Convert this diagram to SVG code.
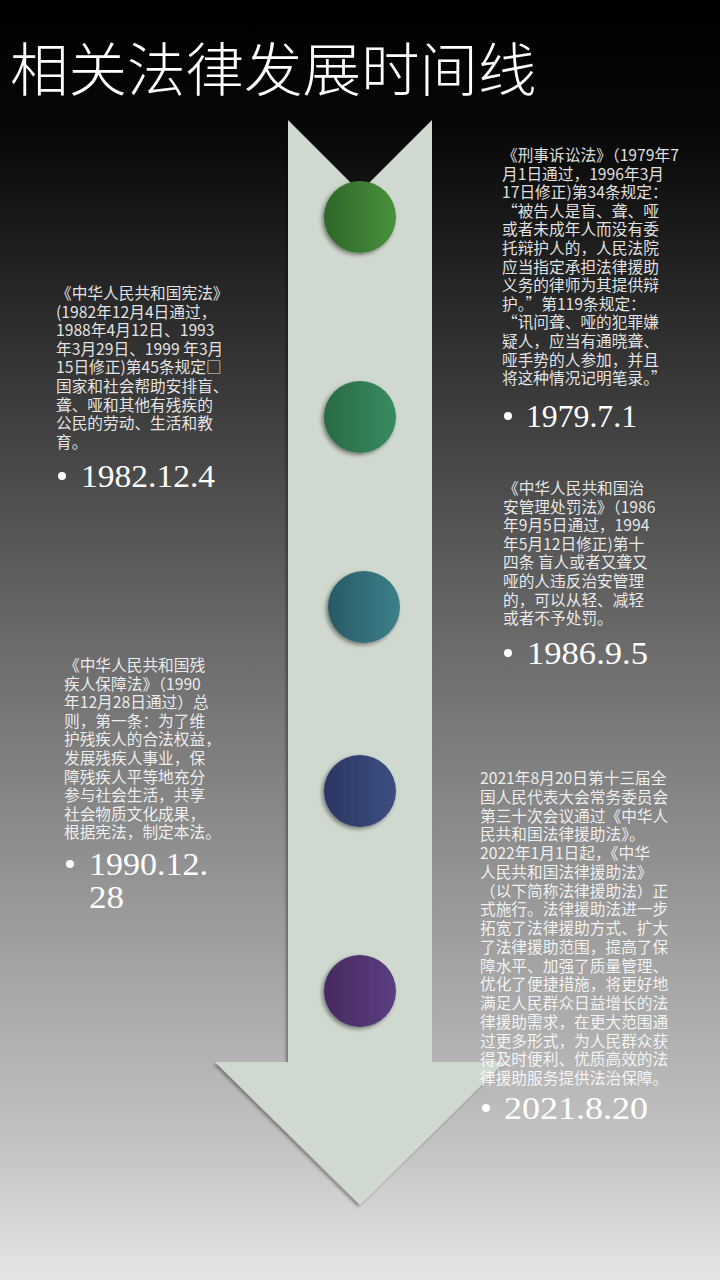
<svg xmlns="http://www.w3.org/2000/svg" width="720" height="1280" viewBox="0 0 720 1280">
<defs>
<linearGradient id="bg" x1="0" y1="0" x2="0" y2="1">
<stop offset="0" stop-color="#000000"/>
<stop offset="0.1" stop-color="#070707"/>
<stop offset="0.5" stop-color="#6a6a6a"/>
<stop offset="0.9" stop-color="#c4c4c4"/>
<stop offset="1" stop-color="#e6e6e6"/>
</linearGradient>
<linearGradient id="g1" x1="0" y1="0" x2="1" y2="0"><stop offset="0" stop-color="#2e6629"/><stop offset="1" stop-color="#48923c"/></linearGradient>
<linearGradient id="g2" x1="0" y1="0" x2="1" y2="0"><stop offset="0" stop-color="#296a44"/><stop offset="1" stop-color="#398c62"/></linearGradient>
<linearGradient id="g3" x1="0" y1="0" x2="1" y2="0"><stop offset="0" stop-color="#285a66"/><stop offset="1" stop-color="#3c8089"/></linearGradient>
<linearGradient id="g4" x1="0" y1="0" x2="1" y2="0"><stop offset="0" stop-color="#2b3662"/><stop offset="1" stop-color="#3c4e82"/></linearGradient>
<linearGradient id="g5" x1="0" y1="0" x2="1" y2="0"><stop offset="0" stop-color="#452a5e"/><stop offset="1" stop-color="#5c3e82"/></linearGradient>
<filter id="sh" x="-30%" y="-30%" width="160%" height="160%">
<feDropShadow dx="-2" dy="2" stdDeviation="2" flood-color="#000" flood-opacity="0.45"/>
</filter>
<filter id="ash" x="-10%" y="-10%" width="120%" height="120%">
<feDropShadow dx="-2" dy="2" stdDeviation="1.5" flood-color="#000" flood-opacity="0.35"/>
</filter>
</defs>
<style>
.body{font-family:"Noto Sans CJK SC","Noto Sans",sans-serif;font-size:15.7px;fill:#ffffff;fill-opacity:0.88}
.date{font-family:"Liberation Serif","DejaVu Serif",serif;font-size:32px;fill:#ffffff}
.bul{fill:#ffffff}
.title{font-family:"Noto Sans CJK SC",sans-serif;font-weight:300;font-size:58.5px;fill:#ffffff}
</style>
<rect x="0" y="0" width="720" height="1280" fill="url(#bg)"/>
<text class="title" x="10" y="91">相关法律发展时间线</text>
<g id="arrow">
<polygon points="288,120 360,192 432,120 432,1062 505,1062 360,1205 215,1062 288,1062" fill="#d0d9d0" filter="url(#ash)"/>
</g>
<g id="connectors"></g>
<g id="node1"><circle cx="360" cy="217" r="36" fill="url(#g1)" filter="url(#sh)"/></g>
<g id="node2"><circle cx="360" cy="417" r="36" fill="url(#g2)" filter="url(#sh)"/></g>
<g id="node3"><circle cx="364" cy="607" r="36" fill="url(#g3)" filter="url(#sh)"/></g>
<g id="node4"><circle cx="360" cy="791" r="36" fill="url(#g4)" filter="url(#sh)"/></g>
<g id="node5"><circle cx="360" cy="991" r="36" fill="url(#g5)" filter="url(#sh)"/></g>

<g id="text1979">
<text class="body" x="502" y="161">
<tspan x="502" y="161">《刑事诉讼法》（1979年7</tspan>
<tspan x="502" dy="18.6">月1日通过，1996年3月</tspan>
<tspan x="502" dy="18.6">17日修正)第34条规定：</tspan>
<tspan x="502" dy="18.6">“被告人是盲、聋、哑</tspan>
<tspan x="502" dy="18.6">或者未成年人而没有委</tspan>
<tspan x="502" dy="18.6">托辩护人的，人民法院</tspan>
<tspan x="502" dy="18.6">应当指定承担法律援助</tspan>
<tspan x="502" dy="18.6">义务的律师为其提供辩</tspan>
<tspan x="502" dy="18.6">护。”第119条规定：</tspan>
<tspan x="502" dy="18.6">“讯问聋、哑的犯罪嫌</tspan>
<tspan x="502" dy="18.6">疑人，应当有通晓聋、</tspan>
<tspan x="502" dy="18.6">哑手势的人参加，并且</tspan>
<tspan x="502" dy="18.6">将这种情况记明笔录。”</tspan>
</text>
<circle class="bul" cx="508" cy="416" r="4"/>
<text class="date" x="526" y="427" textLength="111" lengthAdjust="spacingAndGlyphs">1979.7.1</text>
</g>

<g id="text1982">
<text class="body" x="56" y="299">
<tspan x="56" y="299">《中华人民共和国宪法》</tspan>
<tspan x="56" dy="18.6">(1982年12月4日通过，</tspan>
<tspan x="56" dy="18.6">1988年4月12日、1993</tspan>
<tspan x="56" dy="18.6">年3月29日、1999 年3月</tspan>
<tspan x="56" dy="18.6">15日修正)第45条规定□</tspan>
<tspan x="56" dy="18.6">国家和社会帮助安排盲、</tspan>
<tspan x="56" dy="18.6">聋、哑和其他有残疾的</tspan>
<tspan x="56" dy="18.6">公民的劳动、生活和教</tspan>
<tspan x="56" dy="18.6">育。</tspan>
</text>
<circle class="bul" cx="62" cy="476" r="4"/>
<text class="date" x="81" y="487" textLength="134" lengthAdjust="spacingAndGlyphs">1982.12.4</text>
</g>

<g id="text1986">
<text class="body" x="503" y="494">
<tspan x="503" y="494">《中华人民共和国治</tspan>
<tspan x="503" dy="18.6">安管理处罚法》（1986</tspan>
<tspan x="503" dy="18.6">年9月5日通过，1994</tspan>
<tspan x="503" dy="18.6">年5月12日修正)第十</tspan>
<tspan x="503" dy="18.6">四条 盲人或者又聋又</tspan>
<tspan x="503" dy="18.6">哑的人违反治安管理</tspan>
<tspan x="503" dy="18.6">的，可以从轻、减轻</tspan>
<tspan x="503" dy="18.6">或者不予处罚。</tspan>
</text>
<circle class="bul" cx="508" cy="653" r="4"/>
<text class="date" x="527" y="664" textLength="121" lengthAdjust="spacingAndGlyphs">1986.9.5</text>
</g>

<g id="text1990">
<text class="body" x="64" y="671">
<tspan x="64" y="671">《中华人民共和国残</tspan>
<tspan x="64" dy="18.6">疾人保障法》（1990</tspan>
<tspan x="64" dy="18.6">年12月28日通过）总</tspan>
<tspan x="64" dy="18.6">则，第一条：为了维</tspan>
<tspan x="64" dy="18.6">护残疾人的合法权益，</tspan>
<tspan x="64" dy="18.6">发展残疾人事业，保</tspan>
<tspan x="64" dy="18.6">障残疾人平等地充分</tspan>
<tspan x="64" dy="18.6">参与社会生活，共享</tspan>
<tspan x="64" dy="18.6">社会物质文化成果，</tspan>
<tspan x="64" dy="18.6">根据宪法，制定本法。</tspan>
</text>
<circle class="bul" cx="70" cy="864" r="4"/>
<text class="date" x="89" y="875" textLength="119" lengthAdjust="spacingAndGlyphs">1990.12.</text>
<text class="date" x="89" y="908" textLength="35" lengthAdjust="spacingAndGlyphs">28</text>
</g>

<g id="text2021">
<text class="body" x="480" y="784">
<tspan x="480" y="784">2021年8月20日第十三届全</tspan>
<tspan x="480" dy="18.75">国人民代表大会常务委员会</tspan>
<tspan x="480" dy="18.75">第三十次会议通过《中华人</tspan>
<tspan x="480" dy="18.75">民共和国法律援助法》。</tspan>
<tspan x="480" dy="18.75">2022年1月1日起，《中华</tspan>
<tspan x="480" dy="18.75">人民共和国法律援助法》</tspan>
<tspan x="480" dy="18.75">（以下简称法律援助法）正</tspan>
<tspan x="480" dy="18.75">式施行。法律援助法进一步</tspan>
<tspan x="480" dy="18.75">拓宽了法律援助方式、扩大</tspan>
<tspan x="480" dy="18.75">了法律援助范围，提高了保</tspan>
<tspan x="480" dy="18.75">障水平、加强了质量管理、</tspan>
<tspan x="480" dy="18.75">优化了便捷措施，将更好地</tspan>
<tspan x="480" dy="18.75">满足人民群众日益增长的法</tspan>
<tspan x="480" dy="18.75">律援助需求，在更大范围通</tspan>
<tspan x="480" dy="18.75">过更多形式，为人民群众获</tspan>
<tspan x="480" dy="18.75">得及时便利、优质高效的法</tspan>
<tspan x="480" dy="18.75">律援助服务提供法治保障。</tspan>
</text>
<circle class="bul" cx="486" cy="1108" r="4"/>
<text class="date" x="504" y="1119" textLength="144" lengthAdjust="spacingAndGlyphs">2021.8.20</text>
</g>
</svg>
